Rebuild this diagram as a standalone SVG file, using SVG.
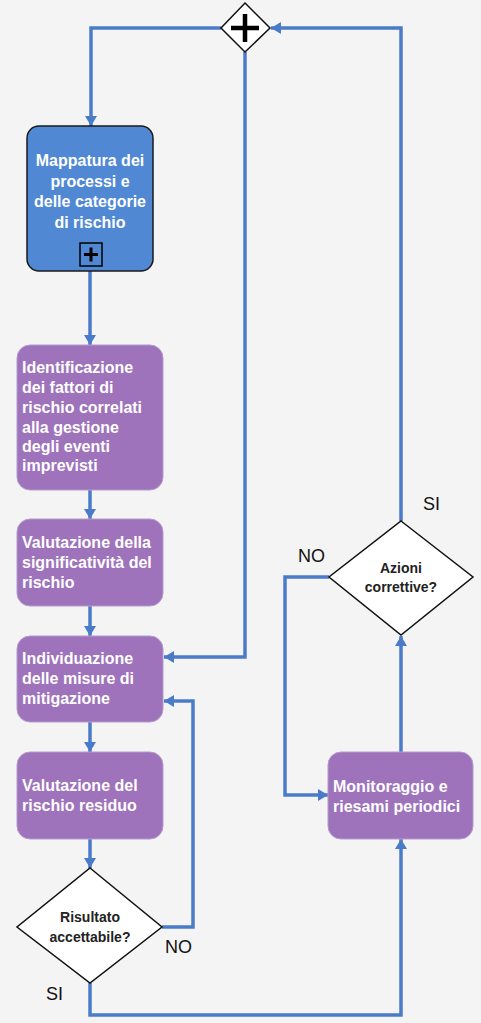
<svg xmlns="http://www.w3.org/2000/svg" width="481" height="1023" viewBox="0 0 481 1023">
<style>
.bg{fill:#f4f4f4}
.c{fill:none;stroke:#4a7bc8;stroke-width:3.5}
.blue{fill:#5088d4;stroke:#1a1a1a;stroke-width:1.5}
.purple{fill:#9e73bb;stroke:#b49ccc;stroke-width:1}
.dia{fill:#ffffff;stroke:#111111;stroke-width:1.5}
.t{font-family:"Liberation Sans",Arial,sans-serif;font-size:16px;font-weight:bold;fill:#ffffff}
.d{font-family:"Liberation Sans",Arial,sans-serif;font-size:14px;font-weight:bold;fill:#222222;text-anchor:middle}
.l{font-family:"Liberation Sans",Arial,sans-serif;font-size:18px;fill:#111111}
</style>
<defs>
<marker id="ah" markerUnits="userSpaceOnUse" viewBox="0 0 10 12" refX="10" refY="6" markerWidth="10" markerHeight="12" orient="auto">
<path d="M0,0 L10,6 L0,12 z" fill="#4a7bc8"/>
</marker>
</defs>
<rect class="bg" x="0" y="0" width="481" height="1023"/>
<g id="connectors">
<polyline class="c" points="221,28 91,28 91,126" marker-end="url(#ah)"/>
<polyline class="c" points="401,521 401,28 271,28" marker-end="url(#ah)"/>
<polyline class="c" points="245,52 245,657 164,657" marker-end="url(#ah)"/>
<line class="c" x1="90" y1="271" x2="90" y2="345" marker-end="url(#ah)"/>
<line class="c" x1="90" y1="490" x2="90" y2="519" marker-end="url(#ah)"/>
<line class="c" x1="90" y1="606" x2="90" y2="636" marker-end="url(#ah)"/>
<line class="c" x1="90" y1="722" x2="90" y2="752" marker-end="url(#ah)"/>
<line class="c" x1="90" y1="839" x2="90" y2="868" marker-end="url(#ah)"/>
<polyline class="c" points="162,927 193,927 193,701 164,701" marker-end="url(#ah)"/>
<polyline class="c" points="90,983 90,1015 401,1015 401,839" marker-end="url(#ah)"/>
<polyline class="c" points="329,577 285,577 285,795 328,795" marker-end="url(#ah)"/>
<line class="c" x1="401" y1="752" x2="401" y2="636" marker-end="url(#ah)"/>
</g>
<g id="gateway">
<polygon class="dia" points="245,3 270,28 245,52 221,28"/>
<path d="M231,28 H259 M245,14 V42" stroke="#000" stroke-width="4.5" fill="none"/>
</g>
<g id="mappatura">
<rect class="blue" x="27" y="126" width="126" height="145" rx="12"/>
<text class="t" text-anchor="middle" x="90" y="166">Mappatura dei</text>
<text class="t" text-anchor="middle" x="90" y="186.5">processi e</text>
<text class="t" text-anchor="middle" x="90" y="207">delle categorie</text>
<text class="t" text-anchor="middle" x="90" y="227.5">di rischio</text>
<rect x="80" y="243" width="22" height="23" fill="none" stroke="#000" stroke-width="1.5"/>
<path d="M84,254.5 H98 M91,247.5 V261.5" stroke="#000" stroke-width="3" fill="none"/>
</g>
<g id="identificazione">
<rect class="purple" x="17" y="345" width="146" height="145" rx="13"/>
<text class="t" x="22" y="373">Identificazione</text>
<text class="t" x="22" y="393">dei fattori di</text>
<text class="t" x="22" y="413">rischio correlati</text>
<text class="t" x="22" y="433">alla gestione</text>
<text class="t" x="22" y="452">degli eventi</text>
<text class="t" x="22" y="471">imprevisti</text>
</g>
<g id="valutazione-significativita">
<rect class="purple" x="17" y="519" width="146" height="87" rx="13"/>
<text class="t" x="22" y="548">Valutazione della</text>
<text class="t" x="22" y="568">significatività del</text>
<text class="t" x="22" y="588">rischio</text>
</g>
<g id="individuazione">
<rect class="purple" x="17" y="636" width="146" height="86" rx="13"/>
<text class="t" x="22" y="664">Individuazione</text>
<text class="t" x="22" y="684">delle misure di</text>
<text class="t" x="22" y="704">mitigazione</text>
</g>
<g id="valutazione-residuo">
<rect class="purple" x="17" y="752" width="146" height="87" rx="13"/>
<text class="t" x="22" y="791">Valutazione del</text>
<text class="t" x="22" y="811">rischio residuo</text>
</g>
<g id="risultato">
<polygon class="dia" points="90,868 162,927 90,983 17,927"/>
<text class="d" x="90" y="922">Risultato</text>
<text class="d" x="90" y="942">accettabile?</text>
</g>
<g id="monitoraggio">
<rect class="purple" x="328" y="752" width="145" height="87" rx="13"/>
<text class="t" x="333" y="792">Monitoraggio e</text>
<text class="t" x="333" y="812">riesami periodici</text>
</g>
<g id="azioni">
<polygon class="dia" points="401,521 473,577 401,635 329,577"/>
<text class="d" x="401" y="573">Azioni</text>
<text class="d" x="401" y="592">correttive?</text>
</g>
<g id="labels">
<text class="l" x="165" y="953">NO</text>
<text class="l" x="46" y="1000">SI</text>
<text class="l" x="298" y="562">NO</text>
<text class="l" x="423" y="510">SI</text>
</g>
</svg>
